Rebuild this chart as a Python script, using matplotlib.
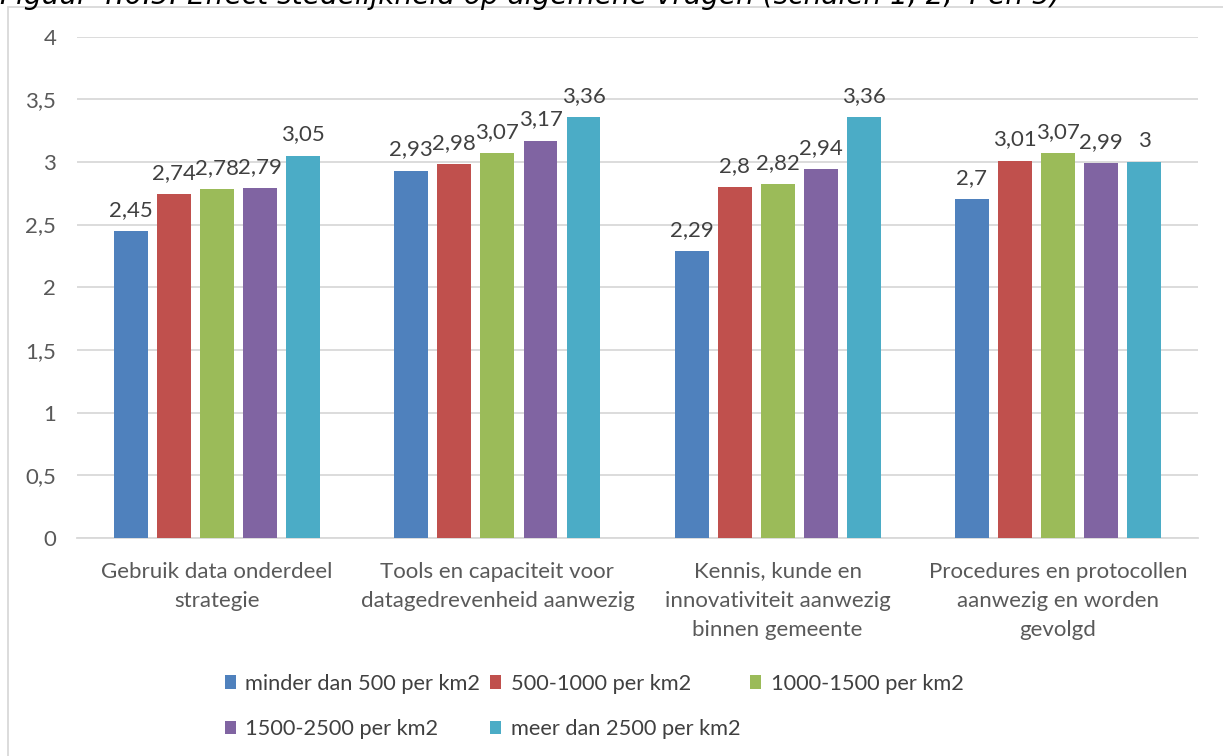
import numpy as np
import matplotlib
matplotlib.use("Agg")
import matplotlib.pyplot as plt
from matplotlib.patches import Rectangle

categories = [
    "Gebruik data onderdeel\nstrategie",
    "Tools en capaciteit voor\ndatagedrevenheid aanwezig",
    "Kennis, kunde en\ninnovativiteit aanwezig\nbinnen gemeente",
    "Procedures en protocollen\naanwezig en worden\ngevolgd",
]
series = [
    "minder dan 500 per km2",
    "500-1000 per km2",
    "1000-1500 per km2",
    "1500-2500 per km2",
    "meer dan 2500 per km2",
]
minder_500 = [2.45, 2.93, 2.29, 2.70]
tot_1000 = [2.74, 2.98, 2.80, 3.01]
tot_1500 = [2.78, 3.07, 2.82, 3.07]
tot_2500 = [2.79, 3.17, 2.94, 2.99]
meer_2500 = [3.05, 3.36, 3.36, 3.00]
values = [minder_500, tot_1000, tot_1500, tot_2500, meer_2500]
colors = ["#4F81BD", "#C0504D", "#9BBB59", "#8064A2", "#4BACC6"]

title = "Figuur 4.6.5: Effect stedelijkheid op algemene vragen (schalen 1, 2, 4 en 5)"

plt.rcParams["font.family"] = ["Lato", "DejaVu Sans"]
fs = 16

fig = plt.figure(figsize=(12.23, 7.56), dpi=100)
ax = fig.add_axes([0.063, 0.2884, 0.9166, 0.6633])

# chart frame (only top and left edge fall inside the image)
fig.patches.append(Rectangle((7.5 / 1223, -0.05), 1.2, 1 - 7.5 / 756 + 0.05,
                             transform=fig.transFigure, fill=False,
                             edgecolor="#D9D9D9", linewidth=1.3, zorder=0))

x = np.arange(len(categories))
width = 0.121
step = 0.1536
for i, (name, vals) in enumerate(zip(series, values)):
    bars = ax.bar(x + (i - 2) * step, vals, width, color=colors[i], label=name, zorder=3)
    labels = [f"{v:g}".replace(".", ",") for v in vals]
    ax.bar_label(bars, labels=labels, padding=8, fontsize=fs, color="#404040")

ax.set_xlim(-0.5, len(categories) - 0.5)
ax.set_ylim(0, 4)
ticks = np.arange(0, 4.01, 0.5)
ax.set_yticks(ticks)
ax.set_yticklabels([f"{t:g}".replace(".", ",") for t in ticks])
ax.set_xticks(x)
ax.set_xticklabels(categories, linespacing=1.58)

ax.grid(axis="y", color="#D9D9D9", linewidth=1.3, zorder=0)
for side in ["top", "right", "left"]:
    ax.spines[side].set_visible(False)
ax.spines["bottom"].set_color("#D9D9D9")
ax.spines["bottom"].set_linewidth(1.3)
ax.tick_params(axis="both", length=0, labelsize=fs, labelcolor="#595959")
ax.tick_params(axis="y", pad=15)
ax.tick_params(axis="x", pad=17)

# legend fills row by row: reorder for matplotlib's column-wise filling
handles, lbls = ax.get_legend_handles_labels()
order = [0, 3, 1, 4, 2]
fig.legend([handles[k] for k in order], [lbls[k] for k in order],
           loc="upper left", bbox_to_anchor=(205 / 1223, 1 - 654 / 756),
           ncol=3, frameon=False, fontsize=15.7, labelcolor="#404040",
           handlelength=0.5, handleheight=0.6, handletextpad=0.45,
           columnspacing=0.45, labelspacing=1.17)

fig.text(0.0, 1 - 3.5 / 756, title, fontsize=20.2, style="italic",
         family="DejaVu Sans", color="#000000", va="baseline", ha="left")

fig.savefig("out.png", dpi=100)
